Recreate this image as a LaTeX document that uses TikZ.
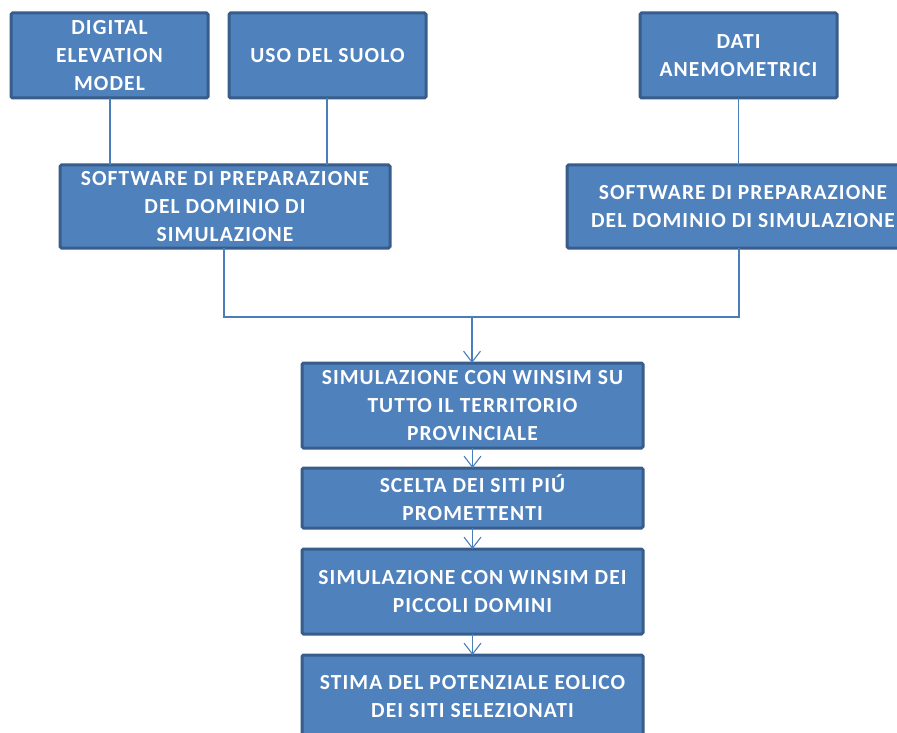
\documentclass[tikz,border=0pt]{standalone}
\usepackage{fontspec}
\setmainfont{Carlito}
\usetikzlibrary{arrows.meta}
\definecolor{boxfill}{HTML}{4F81BD}
\definecolor{boxedge}{HTML}{385D8A}
\definecolor{linkc}{HTML}{4A7EBB}
\tikzset{
  blk/.style={draw=boxedge, line width=3pt, fill=boxfill, rounded corners=1.5pt,
    text=white, font=\bfseries\fontsize{21.5}{28}\selectfont\addfontfeature{LetterSpace=5},
    align=center, inner sep=0pt},
  link/.style={draw=linkc, line width=1.2pt},
  arr/.style={link, -{Straight Barb[length=11pt,width=17pt,line width=1.1pt]}}
}
\begin{document}
\begin{tikzpicture}[x=1pt,y=-1pt]
\clip (0,0) rectangle (897,733);
\fill[white] (0,0) rectangle (897,733);
% boxes drawn as rectangles with named centre nodes
\newcommand{\mybox}[6]{%
  \draw[blk] (#2,#3) rectangle (#4,#5);
  \node[blk, draw=none, fill=none] (#1) at ({(#2+#4)/2},{(#3+#5)/2}) {#6};
  \coordinate (#1-t) at ({(#2+#4)/2},#3);
  \coordinate (#1-b) at ({(#2+#4)/2},#5);
}
\mybox{dem}{11}{13}{208}{98}{DIGITAL\\ELEVATION\\MODEL}
\mybox{uso}{229}{13}{426}{98}{USO DEL SUOLO}
\mybox{dati}{640}{13}{837}{98}{DATI\\ANEMOMETRICI}
\mybox{swl}{60}{165}{390}{248}{SOFTWARE DI PREPARAZIONE\\DEL DOMINIO DI\\SIMULAZIONE}
\mybox{swr}{567}{165}{919}{248}{SOFTWARE DI PREPARAZIONE\\DEL DOMINIO DI SIMULAZIONE}
\mybox{sim}{302}{363}{643}{448}{SIMULAZIONE CON WINSIM SU\\TUTTO IL TERRITORIO\\PROVINCIALE}
\mybox{sce}{302}{468}{643}{528}{SCELTA DEI SITI PIÚ\\PROMETTENTI}
\mybox{sim2}{302}{549}{643}{634}{SIMULAZIONE CON WINSIM DEI\\PICCOLI DOMINI}
\mybox{sti}{302}{655}{643}{738}{STIMA DEL POTENZIALE EOLICO\\DEI SITI SELEZIONATI}
% connectors
\coordinate (demdrop) at (110,98);
\coordinate (demin) at (110,165);
\coordinate (usodrop) at (327,98);
\coordinate (usoin) at (327,165);
\draw[link] (demdrop) -- (demin);
\draw[link] (usodrop) -- (usoin);
\draw[link] (dati-b) -- (dati-b |- swr-t);
\coordinate (jl) at (224,248);
\coordinate (jr) at (739,248);
\coordinate (jm) at (472,317);
\draw[link] (jl) -- (jl |- jm) -- (jr |- jm) -- (jr);
\draw[arr] (jm) -- (jm |- sim-t);
\draw[arr] (sim-b) -- (sce-t);
\draw[arr] (sce-b) -- (sim2-t);
\draw[arr] (sim2-b) -- (sti-t);
\end{tikzpicture}
\end{document}
